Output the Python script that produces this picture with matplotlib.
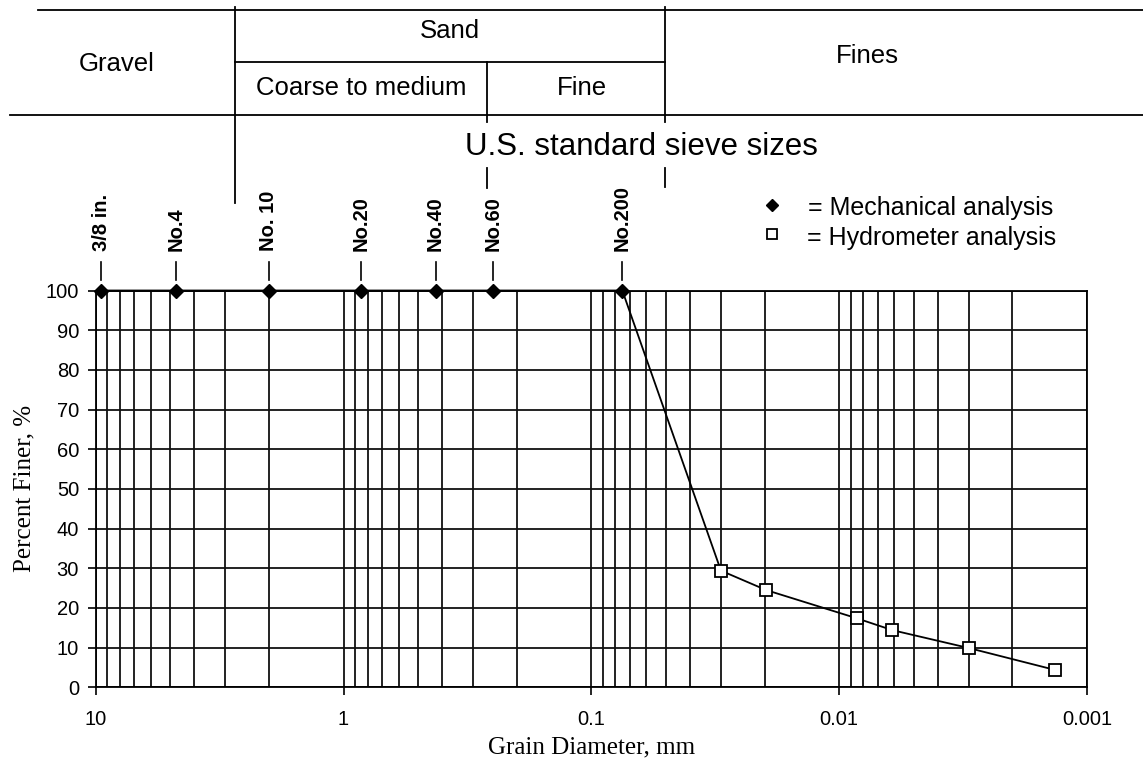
import numpy as np
import matplotlib
matplotlib.use("Agg")
import matplotlib.pyplot as plt
from matplotlib.lines import Line2D
from matplotlib import transforms
from matplotlib.ticker import LogLocator, FixedLocator, FuncFormatter, NullFormatter

plt.rcParams['font.family'] = ['Liberation Sans', 'DejaVu Sans']

# sieve (mechanical) analysis
sieve_names = ["3/8 in.", "No.4", "No. 10", "No.20", "No.40", "No.60", "No.200"]
sieve_mm = [9.5, 4.75, 2.0, 0.85, 0.425, 0.25, 0.075]
mech_pct = [100, 100, 100, 100, 100, 100, 100]

# hydrometer analysis
hydro_mm = [0.030, 0.0197, 0.0085, 0.0061, 0.003, 0.00135]
hydro_pct = [29.4, 24.5, 17.4, 14.4, 9.9, 4.4]

x_ticks = [10, 1, 0.1, 0.01, 0.001]
y_ticks = list(range(0, 101, 10))

W, H = 1143, 761
fig = plt.figure(figsize=(W / 100, H / 100), dpi=100)
ax = fig.add_axes([95.7 / W, 1 - 687.3 / H, (1087 - 95.7) / W, (687.3 - 290.5) / H])


def fp(x, y):
    # pixel position (top-left origin) -> figure fraction
    return x / W, 1 - y / H


ax.set_xscale('log')
ax.set_xlim(10, 0.001)
ax.set_ylim(0, 100)
ax.xaxis.set_major_locator(FixedLocator(x_ticks))
ax.xaxis.set_major_formatter(FuncFormatter(lambda v, p: f"{v:g}"))
ax.xaxis.set_minor_locator(LogLocator(base=10, subs=range(2, 10), numticks=20))
ax.xaxis.set_minor_formatter(NullFormatter())
ax.yaxis.set_major_locator(FixedLocator(y_ticks))
ax.tick_params(axis='both', which='major', direction='out', length=6, width=1.2,
               labelsize=14.5, colors='black')
ax.tick_params(axis='x', which='major', pad=10)
ax.tick_params(axis='y', which='major', pad=6)
ax.tick_params(axis='x', which='minor', length=0)
ax.grid(True, which='both', color='#111111', linewidth=1.3)
for s in ax.spines.values():
    s.set_linewidth(1.3)
    s.set_color('black')

all_mm = sieve_mm + hydro_mm
all_pct = mech_pct + hydro_pct
ax.plot(all_mm, all_pct, color='black', linewidth=1.3, zorder=3, clip_on=False)
ax.plot(sieve_mm, mech_pct, linestyle='none', marker='D', markersize=6.8,
        color='black', zorder=4, clip_on=False)
ax.plot(hydro_mm, hydro_pct, linestyle='none', marker='s', markersize=8.5,
        markerfacecolor='white', markeredgecolor='black', markeredgewidth=1.3,
        zorder=4, clip_on=False)

ax.set_ylabel("Percent Finer, %", family=['Liberation Serif', 'DejaVu Serif'],
              fontsize=18, labelpad=7)
ax.set_xlabel("Grain Diameter, mm", family=['Liberation Serif', 'DejaVu Serif'],
              fontsize=18, labelpad=6)

# sieve labels above the plot
blend = transforms.blended_transform_factory(ax.transData, fig.transFigure)
for name, d in zip(sieve_names, sieve_mm):
    fig.text(d, fp(0, 251)[1], name, transform=blend, rotation=90,
             ha='center', va='bottom', fontsize=14.5, fontweight='bold')
    fig.add_artist(Line2D([d, d], [fp(0, 262)[1], fp(0, 280)[1]],
                          transform=blend, color='black', linewidth=1.2))

# soil classification header
header_lines = [
    (38, 10, W, 10), (10, 115, W, 115), (235, 62, 665, 62),
    (235, 7, 235, 203), (487, 62, 487, 122), (487, 168, 487, 188),
    (665, 7, 665, 122), (665, 168, 665, 187),
]
for x0, y0, x1, y1 in header_lines:
    a, b = fp(x0, y0)
    c, d = fp(x1, y1)
    fig.add_artist(Line2D([a, c], [b, d], transform=fig.transFigure,
                          color='black', linewidth=1.3))

header_text = [
    ("Gravel", 117, 70.7, 18.5), ("Sand", 450, 38.3, 18.5),
    ("Coarse to medium", 361, 95, 18.5), ("Fine", 582, 95, 18.5),
    ("Fines", 867, 63.3, 18.5), ("U.S. standard sieve sizes", 641, 155, 22.5),
]
for txt, x, y, fs in header_text:
    fig.text(*fp(x, y), txt, ha='center', va='baseline', fontsize=fs)

# legend
fig.add_artist(Line2D([fp(772, 0)[0]], [fp(0, 205)[1]], transform=fig.transFigure,
                      marker='D', markersize=6.5, color='black', linestyle='none'))
fig.add_artist(Line2D([fp(772, 0)[0]], [fp(0, 234)[1]], transform=fig.transFigure,
                      marker='s', markersize=7, markerfacecolor='white',
                      markeredgecolor='black', markeredgewidth=1.3, linestyle='none'))
fig.text(*fp(808, 215), "= Mechanical analysis", ha='left', va='baseline', fontsize=18)
fig.text(*fp(807, 245), "= Hydrometer analysis", ha='left', va='baseline', fontsize=18)

fig.savefig("out.png", dpi=100, facecolor='white')
